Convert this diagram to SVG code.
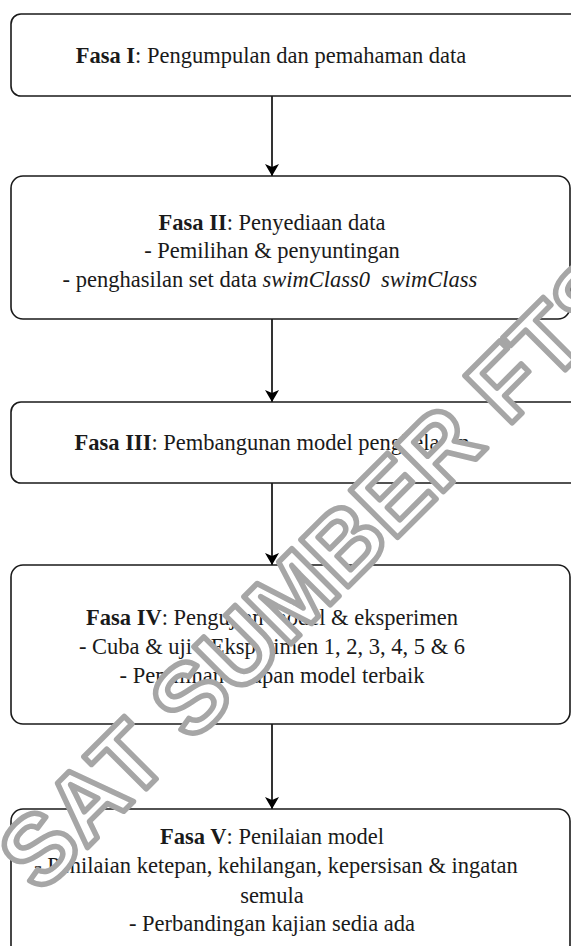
<svg xmlns="http://www.w3.org/2000/svg" width="571" height="946" viewBox="0 0 571 946">
  <style>
    .box { fill: #ffffff; stroke: #1a1a1a; stroke-width: 1.6; }
    .lbl { font-size: 22.5px; fill: #1a1a1a; text-anchor: middle; }
    .b { font-weight: bold; }
    .i { font-style: italic; }
    .edge { stroke: #000000; stroke-width: 1.6; fill: none; marker-end: url(#arrow); }
    .wm { font-size: 97px; font-weight: bold; fill: #ffffff; stroke: #a6a6a6; stroke-width: 5.5; stroke-linejoin: round; }
  </style>
  <defs>
    <marker id="arrow" viewBox="0 0 12 14" refX="12" refY="7" markerWidth="12" markerHeight="14" markerUnits="userSpaceOnUse" orient="auto">
      <path d="M0,0 L12,7 L0,14 L3,7 Z" fill="#000000"/>
    </marker>
  </defs>

  <rect width="571" height="946" fill="#ffffff"/>

  <!-- connectors -->
  <g id="connectors">
    <line class="edge" x1="272" y1="96" x2="272" y2="176"/>
    <line class="edge" x1="272" y1="319" x2="272" y2="402"/>
    <line class="edge" x1="272" y1="483" x2="272" y2="565"/>
    <line class="edge" x1="272" y1="724" x2="272" y2="809"/>
  </g>

  <g font-family="'Liberation Serif', 'DejaVu Serif', serif">
    <g id="fasa1">
      <rect class="box" x="11" y="14" width="580" height="82" rx="10"/>
      <text class="lbl" x="271" y="63"><tspan class="b">Fasa I</tspan>: Pengumpulan dan pemahaman data</text>
    </g>

    <g id="fasa2">
      <rect class="box" x="11" y="176" width="559" height="143" rx="12"/>
      <text class="lbl" x="272" y="230"><tspan class="b">Fasa II</tspan>: Penyediaan data</text>
      <text class="lbl" x="272" y="258">- Pemilihan &amp; penyuntingan</text>
      <text class="lbl" x="270" y="287">- penghasilan set data <tspan class="i">swimClass0</tspan><tspan class="i" dx="11">swimClass</tspan></text>
    </g>

    <g id="fasa3">
      <rect class="box" x="11" y="402" width="580" height="81" rx="10"/>
      <text class="lbl" x="272" y="450"><tspan class="b">Fasa III</tspan>: Pembangunan model pengkelasan</text>
    </g>

    <g id="fasa4">
      <rect class="box" x="11" y="565" width="559" height="159" rx="12"/>
      <text class="lbl" x="272" y="625"><tspan class="b">Fasa IV</tspan>: Pengujian model &amp; eksperimen</text>
      <text class="lbl" x="272" y="654">- Cuba &amp; uji - Eksperimen 1, 2, 3, 4, 5 &amp; 6</text>
      <text class="lbl" x="272" y="683">- Pemilihan tetapan model terbaik</text>
    </g>

    <g id="fasa5">
      <rect class="box" x="11" y="809" width="559" height="150" rx="12"/>
      <text class="lbl" x="272" y="844"><tspan class="b">Fasa V</tspan>: Penilaian model</text>
      <text class="lbl" x="276" y="873">- Penilaian ketepan, kehilangan, kepersisan &amp; ingatan</text>
      <text class="lbl" x="272" y="903">semula</text>
      <text class="lbl" x="272" y="931">- Perbandingan kajian sedia ada</text>
    </g>
  </g>

  <!-- stamp across the page -->
  <g id="stamp" font-family="'Liberation Sans', 'DejaVu Sans', sans-serif">
    <text class="wm" transform="translate(40 895) rotate(-45)">SAT SUMBER FTSM</text>
  </g>
</svg>
